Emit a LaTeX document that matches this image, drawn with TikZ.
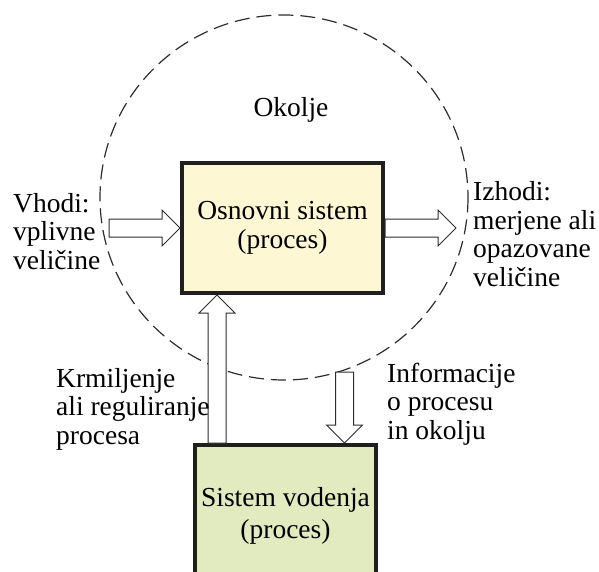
\documentclass[tikz,border=0pt]{standalone}
\usepackage{fontspec}
\setmainfont{Liberation Serif}
\usepackage{tikz}
\usetikzlibrary{calc}
\definecolor{boxyellow}{RGB}{253,247,211}
\definecolor{boxgreen}{RGB}{226,235,191}
\definecolor{linegray}{RGB}{45,45,45}

\tikzset{
  blok/.style={draw=black!88, line width=4pt, align=center, inner sep=0pt},
  napis/.style={align=left, anchor=base west, inner sep=0pt},
  votla/.style={draw=linegray, fill=white, line width=1pt, to path={
    ($(\tikztostart)!9pt!90:(\tikztotarget)$)
    -- ($(\tikztotarget)!18pt!(\tikztostart)!9pt!90:(\tikztotarget)$)
    -- ($(\tikztotarget)!18pt!(\tikztostart)!18pt!90:(\tikztotarget)$)
    -- (\tikztotarget)
    -- ($(\tikztotarget)!18pt!(\tikztostart)!18pt!-90:(\tikztotarget)$)
    -- ($(\tikztotarget)!18pt!(\tikztostart)!9pt!-90:(\tikztotarget)$)
    -- ($(\tikztostart)!9pt!-90:(\tikztotarget)$) -- cycle \tikztonodes}}
}

\begin{document}
\begin{tikzpicture}[x=1pt,y=-1pt,font=\fontsize{27.5}{28.5}\selectfont]
  \useasboundingbox (0,0) rectangle (599,572);
  \clip (0,0) rectangle (599,572);

  % okolje
  \draw[linegray, line width=1.2pt, dash pattern=on 15pt off 7pt] (284,197.5) ellipse (184 and 182.5);
  \node[anchor=base, inner sep=0pt] (okolje) at (291,117) {Okolje};

  \coordinate (vhod) at (109,228);
  \coordinate (izhod) at (456,228);
  \coordinate (upx) at (217,0);
  \coordinate (info) at (344.5,372);

  \node[blok, fill=boxyellow, minimum width=201, minimum height=130] (osn) at (282.5,228)
    {Osnovni sistem\\[1pt](proces)};
  \node[blok, fill=boxgreen, minimum width=181, minimum height=142] (vod) at (285.5,516)
    {Sistem vodenja\\[3pt](proces)};

  \draw[votla] (vhod) to (osn.west);
  \draw[votla] (osn.east) to (izhod);
  \draw[votla] (vod.north -| upx) to (osn.south -| upx);
  \draw[votla] (info) to (vod.north -| info);

  % base = zadnja vrstica
  \node[napis] (vhodi) at (13,269) {Vhodi:\\vplivne\\veličine};
  \node[napis] (izhodi) at (473,286) {Izhodi:\\merjene ali\\opazovane\\veličine};
  \node[napis] (krmil) at (56,444) {Krmiljenje\\ali reguliranje\\procesa};
  \node[napis] (infotxt) at (387,439) {Informacije\\o procesu\\in okolju};
\end{tikzpicture}
\end{document}
